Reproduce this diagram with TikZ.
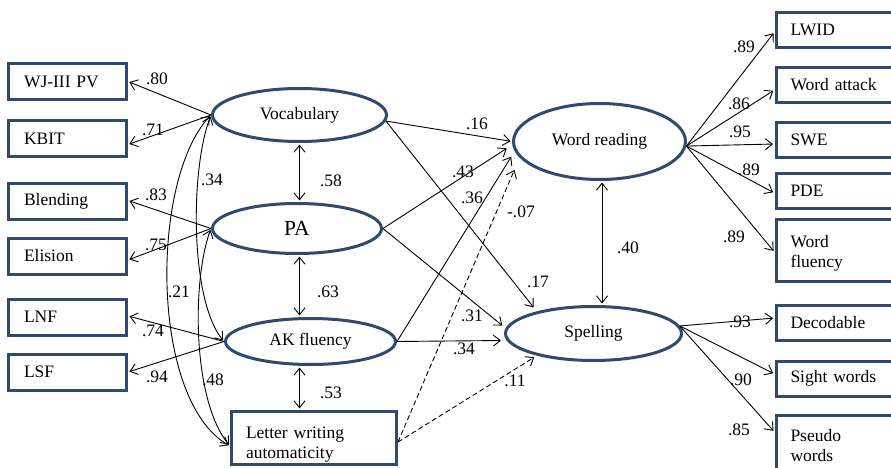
\documentclass[tikz,border=0pt]{standalone}
\usepackage{fontspec}
\setmainfont{Liberation Serif}
\usetikzlibrary{arrows.meta,shapes.geometric,calc}
\definecolor{bord}{RGB}{46,74,112}
\begin{document}
\begin{tikzpicture}[x=1pt,y=-1pt,
  font=\fontsize{17.5}{20}\selectfont,
  lbox/.style={draw=bord,line width=3pt,rectangle,minimum width=118pt,minimum height=36pt,inner xsep=15.5pt,inner ysep=0pt,text width=87pt,align=left},
  rbox/.style={draw=bord,line width=3pt,rectangle,minimum height=35pt,inner xsep=14.5pt,inner ysep=0pt,text width=89pt,align=left,anchor=west},
  lat/.style={draw=bord,line width=3pt,ellipse,inner sep=0pt},
  arr/.style={line width=0.9pt,shorten >=1.5pt,-{Straight Barb[length=7pt,width=11pt]}},
  darr/.style={line width=0.9pt,shorten >=1.5pt,shorten <=1.5pt,{Straight Barb[length=7pt,width=11pt]}-{Straight Barb[length=7pt,width=11pt]}},
  dsh/.style={dash pattern=on 5pt off 3pt},
  lab/.style={inner sep=0pt}
]
\useasboundingbox (0,0) rectangle (891,468);
\fill[white] (0,0) rectangle (891,468);

% left indicator boxes
\node[lbox] (wj)    at (67.5,81.5)  {WJ-III PV};
\node[lbox] (kbit)  at (67.5,138.5) {KBIT};
\node[lbox] (blend) at (67.5,201.5) {Blending};
\node[lbox] (elis)  at (67.5,256)   {Elision};
\node[lbox] (lnf)   at (67.5,317)   {LNF};
\node[lbox] (lsf)   at (67.5,372)   {LSF};

% latent variables
\node[lat,minimum width=174pt,minimum height=53pt] (voc) at (299.5,115) {Vocabulary};
\node[lat,minimum width=169pt,minimum height=50pt,font=\fontsize{21.5}{24}\selectfont] (pa) at (297,228.5) {PA};
\node[lat,minimum width=170pt,minimum height=46pt] (ak) at (310.5,341.5) {AK fluency};
\node[draw=bord,line width=3pt,rectangle,minimum width=165pt,minimum height=53pt,inner xsep=14.5pt,inner ysep=0pt,text width=136pt,align=left] (lwa) at (314,438) {\rule{0pt}{24pt}Letter writing\\automaticity};
\node[lat,minimum width=172pt,minimum height=76pt] (wr) at (599.5,141.5) {Word reading};
\node[lat,minimum width=176pt,minimum height=54pt] (sp) at (593.5,333.5) {Spelling};

% right indicator boxes
\node[rbox] (lwid) at (774.5,30)    {LWID};
\node[rbox] (watt) at (774.5,85)    {Word attack};
\node[rbox] (swe)  at (774.5,140)   {SWE};
\node[rbox] (pde)  at (774.5,190.5) {PDE};
\node[rbox,minimum height=62pt] (wf) at (774.5,250.5) {\rule{0pt}{18pt}Word\\fluency};
\node[rbox] (dec)  at (774.5,322.5) {Decodable};
\node[rbox] (sight) at (774.5,378.5) {Sight words};
\node[rbox,minimum height=60pt] (pseu) at (774.5,445.5) {Pseudo\\words};

% left loadings
\draw[arr] (voc.west) -- (wj.east);
\draw[arr] (voc.west) -- ([shift={(0,6)}]kbit.east);
\draw[arr] (pa.west) -- ([shift={(0,-1)}]blend.east);
\draw[arr] (pa.west) -- ([shift={(0,4)}]elis.east);
\draw[arr] (ak.west) -- ([shift={(0,-1)}]lnf.east);
\draw[arr] (ak.west) -- (lsf.east);

% correlations among predictors
\draw[darr] (voc.west) .. controls (190,170) and (190,300) .. (ak.west);
\draw[darr] (voc.west) .. controls (150,180) and (150,400) .. ([shift={(0,8)}]lwa.west);
\draw[darr] (pa.west) .. controls (192,280) and (192,400) .. ([shift={(0,8)}]lwa.west);
\draw[darr] (voc.south) -- (pa.north -| voc.south);
\draw[darr] (pa.south -| voc.south) -- (ak.north -| voc.south);
\draw[darr] (ak.south -| voc.south) -- (lwa.north -| voc.south);
\draw[darr] ([xshift=2.5pt]wr.south) -- ([xshift=2.5pt]wr.south |- sp.north);

% structural paths
\draw[arr] (voc.-4) -- (wr.west);
\draw[arr] (voc.-4) -- ([shift={(-59,-25)}]sp.center);
\draw[arr] (pa.east) -- ([shift={(-4,6)}]wr.west);
\draw[arr] (pa.east) -- ([shift={(-90,-7)}]sp.center);
\draw[arr] (ak.east) -- ([shift={(0,14)}]wr.west);
\draw[arr] (ak.east) -- ([shift={(-91,7)}]sp.center);
\draw[arr,dsh] ([shift={(0,4)}]lwa.east) -- ([shift={(3,27)}]wr.west);
\draw[arr,dsh] ([shift={(0,4)}]lwa.east) -- ([shift={(-58,23)}]sp.center);

% right loadings
\draw[arr] (wr.-3) -- ([shift={(0,2)}]lwid.west);
\draw[arr] (wr.-3) -- ([shift={(0,5)}]watt.west);
\draw[arr] (wr.-3) -- ([shift={(0,4)}]swe.west);
\draw[arr] (wr.-3) -- ([shift={(0,2.5)}]pde.west);
\draw[arr] (wr.-3) -- ([shift={(0,1.5)}]wf.west);
\draw[arr] (sp.5) -- ([shift={(0,-4.5)}]dec.west);
\draw[arr] (sp.5) -- ([shift={(0,-4.5)}]sight.west);
\draw[arr] (sp.5) -- ([shift={(0,-13.5)}]pseu.west);

% labels
\node[lab] (l80) at (157,79)  {.80};
\node[lab] (l71) at (153,130) {.71};
\node[lab] (l83) at (156,195) {.83};
\node[lab] (l75) at (156,245) {.75};
\node[lab] (l74) at (153,331) {.74};
\node[lab] (l94) at (157,377) {.94};
\node[lab] (l34a) at (212,180) {.34};
\node[lab] (l21) at (179,292) {.21};
\node[lab] (l48) at (213,380) {.48};
\node[lab] (l58) at (331,181) {.58};
\node[lab] (l63) at (328,292) {.63};
\node[lab] (l53) at (331,393) {.53};
\node[lab] (l16) at (477,124) {.16};
\node[lab] (l43) at (463,172) {.43};
\node[lab] (l36) at (472,198) {.36};
\node[lab] (l07) at (521,212) {-.07};
\node[lab] (l17) at (538,282) {.17};
\node[lab] (l40) at (628,248) {.40};
\node[lab] (l31) at (472,316) {.31};
\node[lab] (l34b) at (464,349) {.34};
\node[lab] (l11) at (515,381) {.11};
\node[lab] (r1) at (744,47)  {.89};
\node[lab] (r2) at (739,104) {.86};
\node[lab] (r3) at (740,132) {.95};
\node[lab] (r4) at (749,170) {.89};
\node[lab] (r5) at (734,237) {.89};
\node[lab] (r6) at (740,322) {.93};
\node[lab] (r7) at (741,380) {.90};
\node[lab] (r8) at (739,430) {.85};
\end{tikzpicture}
\end{document}
